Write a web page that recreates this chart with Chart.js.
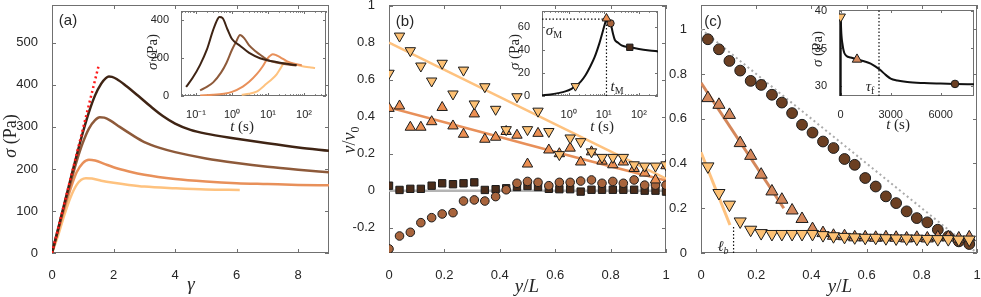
<!DOCTYPE html>
<html><head><meta charset="utf-8">
<script src="https://cdn.jsdelivr.net/npm/chart.js@4.4.0/dist/chart.umd.min.js"></script>
<style>
html,body{margin:0;padding:0;background:#fff;}
#wrap{position:relative;width:981px;height:297px;overflow:hidden;background:#fff;}
canvas{position:absolute;}
</style></head>
<body><div id="wrap"></div>
<script>
// ---------------- DATA ----------------
// Panel (a): stress vs strain
const aTicksX = [0,2,4,6,8], aTickLabelsX = ['0','2','4','6','8'];
const aTicksY = [0,100,200,300,400,500], aTickLabelsY = ['0','100','200','300','400','500'];
const aDarkG = [0,0.2,0.4,0.6,0.8,1.0,1.2,1.4,1.6,1.75,1.85,1.95,2.1,2.4,2.8,3.2,3.6,4.0,4.5,5,6,7,8,9];
const aDarkS = [0,58,117,175,232,286,335,375,403,416,420,419,414,398,374,349,326,308,293,284,272,261,251,243];
const aMedG = [0,0.2,0.4,0.6,0.8,1.0,1.2,1.4,1.55,1.7,1.9,2.2,2.6,3,3.5,4,5,6,7,8,9];
const aMedS = [0,56,112,166,218,262,296,316,323,322,315,300,281,264,250,240,225,214,205,198,192];
const aOrG = [0,0.2,0.4,0.6,0.8,1.0,1.2,1.4,1.7,2,2.5,3,4,5,6,7,8,9];
const aOrS = [0,52,104,152,192,214,222,220,212,204,194,186,176,170,166,164,162,161];
const aLtG = [0,0.2,0.4,0.6,0.8,0.95,1.1,1.3,1.6,2,2.5,3,4,5,6.1];
const aLtS = [0,42,90,132,162,174,178,177,172,167,162,158,154,151,150];
const aRefG = [0,1.53], aRefS = [0,450];
// Inset (a): stress vs time
const aiTicksX = [0.1,1,10,100], aiTickLabelsX = ['10⁻¹','10⁰','10¹','10²'];
const aiTicksY = [0,200,400], aiTickLabelsY = ['0','200','400'];
const aiDarkT = [0.053,0.08,0.13,0.2,0.3,0.4,0.45,0.55,0.75,1.0,1.7,3,6,10,17,30,63];
const aiDarkS = [48,95,165,245,350,408,418,412,352,302,265,228,200,188,180,172,163];
const aiMedT = [0.13,0.2,0.3,0.5,0.7,1.0,1.3,1.67,2.2,3,4.5,7,10,20,40,60];
const aiMedS = [30,48,72,125,175,245,287,323,305,268,237,210,190,175,165,162];
const aiOrT = [0.13,0.3,0.6,1,2,3,5,7,9.2,11,13.5,17,22,33,50,87];
const aiOrS = [3,6,12,22,50,75,118,155,192,210,221,216,205,185,172,163];
const aiLtT = [1.86,3,5,9.2,13,17.4,22,26.7,29,35,45,60,90,140,203];
const aiLtS = [7,12,25,66,90,115,145,171,178,177,172,166,158,152,148];

// Panel (b): velocity profiles
const bTicksX = [0,0.2,0.4,0.6,0.8,1], bTickLabelsX = ['0','0.2','0.4','0.6','0.8','1'];
const bTicksY = [-0.2,0,0.2,0.4,0.6,0.8,1], bTickLabelsY = ['-0.2','0','0.2','0.4','0.6','0.8','1'];
const bPos = [0,0.038,0.077,0.115,0.154,0.192,0.231,0.269,0.308,0.346,0.385,0.423,0.462,0.5,0.538,0.577,0.615,0.654,0.692,0.731,0.769,0.808,0.846,0.885,0.923,0.962,1.0];
const bDown = [0.635,0.836,0.757,0.674,0.593,0.689,0.523,0.652,0.469,0.562,0.44,0.33,0.508,0.33,0.43,0.32,0.195,0.285,0.265,0.21,0.18,0.18,0.18,0.14,0.133,0.133,0.14];
const bUp = [0.445,0.458,0.343,0.343,0.373,0.45,0.35,0.305,0.415,0.278,0.289,0.32,0.30,0.144,0.31,0.22,0.20,0.23,0.155,0.21,0.16,0.14,0.155,0.12,0.095,0.058,0.135];
const bCirc = [-0.315,-0.245,-0.225,-0.173,-0.146,-0.126,-0.119,-0.056,-0.05,-0.056,-0.032,0.005,0.04,0.05,0.045,0.027,0.045,0.045,0.052,0.058,0.04,0.05,0.04,0.058,0.03,0.03,0.03];
const bSq = [0.027,0.004,0.01,0.01,0.027,0.04,0.035,0.04,0.045,0.004,0.008,0.013,0.02,0.025,0.02,0.01,0.008,0.008,-0.005,0.005,0.005,0.005,0.005,0.005,0.0,0.0,-0.005];
const bLtLineX = [0,1], bLtLineV = [0.80,0.065];
const bOrLineX = [0,0.4,0.7,1], bOrLineV = [0.45,0.29,0.17,0.055];
const bZeroX = [0,1], bZeroV = [0,0];
// Inset (b)
const biTicksX = [1,10,100], biTickLabelsX = ['10⁰','10¹','10²'];
const biTicksY = [0,20,40,60], biTickLabelsY = ['0','20','40','60'];
const biT = [0.173,0.3,0.5,0.8,1.2,1.55,2.2,3,4,5.5,7.5,9.5,11,11.9,13,14,15.6,18,20.5,25,32,55,100,200,350];
const biS = [0.6,1.3,2.5,4,6.3,8.6,12.5,18,25,34,46,57,64,67.3,66,64.5,63.3,55,49,46.5,44,42.4,41,39.7,38.8];
const biDownT = [1.55], biDownS = [8.6];
const biUpT = [11.9], biUpS = [67.5];
const biCircT = [15.6], biCircS = [63.3];
const biSqT = [55], biSqS = [42.4];
const biHX = [0.173,11.9], biHS = [67,67];
const biVX = [11.9,11.9], biVS = [0,67];

// Panel (c)
const cTicksX = [0,0.2,0.4,0.6,0.8,1], cTickLabelsX = ['0','0.2','0.4','0.6','0.8','1'];
const cTicksY = [0,0.2,0.4,0.6,0.8,1], cTickLabelsY = ['0','0.2','0.4','0.6','0.8','1'];
const cPos = [0.025,0.065,0.103,0.142,0.18,0.218,0.257,0.293,0.33,0.366,0.404,0.442,0.48,0.52,0.557,0.595,0.633,0.67,0.707,0.745,0.782,0.82,0.858,0.896,0.934,0.972];
const cCirc = [0.955,0.91,0.858,0.815,0.769,0.751,0.707,0.672,0.625,0.573,0.538,0.498,0.469,0.42,0.394,0.335,0.297,0.253,0.223,0.186,0.156,0.137,0.104,0.074,0.052,0.04];
const cUp = [0.692,0.662,0.617,0.491,0.434,0.35,0.275,0.238,0.19,0.152,0.107,0.089,0.077,0.075,0.07,0.07,0.068,0.07,0.068,0.065,0.068,0.065,0.07,0.07,0.065,0.07];
const cDown = [0.387,0.268,0.216,0.141,0.104,0.089,0.085,0.085,0.085,0.085,0.085,0.08,0.075,0.072,0.07,0.068,0.068,0.066,0.065,0.065,0.064,0.063,0.062,0.062,0.06,0.06];
const cDiagX = [0,1], cDiagV = [1,0];
const cOrLineX = [0,0.3], cOrLineV = [0.76,0.2];
const cLtLineX = [0,0.105], cLtLineV = [0.45,0.125];
const cLbX = [0.118,0.118], cLbV = [0,0.12];
// Inset (c)
const ciTicksX = [0,3000,6000], ciTickLabelsX = ['0','3000','6000'];
const ciTicksY = [30,35,40], ciTickLabelsY = ['30','35','40'];
const ciT = [5,20,40,70,100,150,220,350,600,1000,1400,1800,2100,2400,2700,3000,3400,4000,5000,6000,6860,8000];
const ciS = [39.2,38.0,37.0,36.2,35.7,35.0,34.4,34.0,33.8,33.55,33.3,33.0,32.6,32.1,31.5,31.0,30.75,30.55,30.42,30.35,30.3,30.25];
const ciRiseT = [0,0,5], ciRiseS = [28.7,39.2,39.2];
const ciDownT = [0], ciDownS = [39.2];
const ciUpT = [980], ciUpS = [33.55];
const ciCircT = [6860], ciCircS = [30.3];
const ciTauX = [2300,2300], ciTauS = [28.7,40.1];

// ---------------- STYLE / HELPERS ----------------
const TXT = '#262626', FRAME = '#707070';
const SANS = "'Liberation Sans', Arial, sans-serif";
const SERIF = "'Liberation Serif', 'DejaVu Serif', serif";
const PAD = 20;
const P = (xs, ys) => xs.map((x, i) => ({x, y: ys[i]}));

function rich(ctx, x, y, parts, rot) {
  ctx.save();
  ctx.translate(x, y);
  if (rot) ctx.rotate(rot);
  ctx.textBaseline = 'alphabetic';
  ctx.textAlign = 'left';
  let w = 0;
  parts.forEach(p => { ctx.font = p.f; p.w = ctx.measureText(p.t).width; w += p.w; });
  let cx = -w / 2;
  parts.forEach(p => { ctx.font = p.f; ctx.fillStyle = TXT; ctx.fillText(p.t, cx, p.dy || 0); cx += p.w; });
  ctx.restore();
}

const decor = {
  id: 'decor',
  beforeDraw(chart) {
    const d = chart.canvas.$decor; if (!d || !d.bg) return;
    const a = chart.chartArea, ctx = chart.ctx;
    ctx.save(); ctx.fillStyle = '#fff'; ctx.fillRect(a.left, a.top, a.width, a.height); ctx.restore();
  },
  beforeDatasetsDraw(chart) {
    const d = chart.canvas.$decor; const a = chart.chartArea, ctx = chart.ctx;
    ctx.save();
    ctx.strokeStyle = FRAME; ctx.lineWidth = 1;
    ctx.strokeRect(a.left + 0.5, a.top + 0.5, a.width - 1, a.height - 1);
    const L = d.tick;
    const xs = chart.scales.x, ys = chart.scales.y;
    ctx.beginPath();
    xs.ticks.forEach(t => { const p = Math.round(xs.getPixelForValue(t.value)) + 0.5;
      ctx.moveTo(p, a.bottom); ctx.lineTo(p, a.bottom - L); ctx.moveTo(p, a.top); ctx.lineTo(p, a.top + L); });
    ys.ticks.forEach(t => { const p = Math.round(ys.getPixelForValue(t.value)) + 0.5;
      ctx.moveTo(a.left, p); ctx.lineTo(a.left + L, p); ctx.moveTo(a.right, p); ctx.lineTo(a.right - L, p); });
    if (d.minorX) {
      for (let e = Math.floor(Math.log10(xs.min)); e <= Math.ceil(Math.log10(xs.max)); e++) {
        for (let m = 2; m <= 9; m++) {
          const v = m * Math.pow(10, e); if (v < xs.min || v > xs.max) continue;
          const p = Math.round(xs.getPixelForValue(v)) + 0.5;
          ctx.moveTo(p, a.bottom); ctx.lineTo(p, a.bottom - L * 0.6); ctx.moveTo(p, a.top); ctx.lineTo(p, a.top + L * 0.6);
        }
      }
    }
    ctx.stroke();
    ctx.restore();
  },
  afterDraw(chart) {
    const d = chart.canvas.$decor; const ctx = chart.ctx;
    ctx.save();
    ctx.translate(-d.off.x, -d.off.y);
    (d.texts || []).forEach(t => rich(ctx, t.x, t.y, t.parts, t.rot));
    ctx.restore();
  }
};

function axis(type, min, max, ticks, labels, size, pad) {
  return {
    type, min, max,
    grid: {display: false}, border: {display: false},
    ticks: {autoSkip: false, maxRotation: 0, minRotation: 0, padding: pad, color: TXT,
      font: {family: SANS, size}, callback: (v, i) => labels[i]},
    afterBuildTicks: s => { s.ticks = ticks.map(v => ({value: v})); }
  };
}

function makeChart(rect, yW, xH, scales, datasets, decorOpts, z) {
  const W = PAD + yW + (rect.r - rect.l) + PAD;
  const H = PAD + (rect.b - rect.t) + xH + PAD;
  const c = document.createElement('canvas');
  c.width = W; c.height = H;
  const offX = rect.l - yW - PAD, offY = rect.t - PAD;
  c.style.left = offX + 'px'; c.style.top = offY + 'px';
  c.style.width = W + 'px'; c.style.height = H + 'px';
  c.style.zIndex = z;
  decorOpts.off = {x: offX, y: offY};
  c.$decor = decorOpts;
  document.getElementById('wrap').appendChild(c);
  scales.x.afterFit = s => { s.height = xH; };
  scales.y.afterFit = s => { s.width = yW; };
  datasets.forEach((ds, i) => { ds.order = datasets.length - i; });
  return new Chart(c, {
    type: 'scatter',
    data: {datasets},
    options: {
      responsive: false, devicePixelRatio: 1, animation: false,
      layout: {padding: PAD},
      events: [],
      plugins: {legend: {display: false}, tooltip: {enabled: false}},
      scales
    },
    plugins: [decor]
  });
}

const line = (data, color, w, extra) => Object.assign({data, showLine: true, borderColor: color, borderWidth: w,
  pointRadius: 0, pointHoverRadius: 0, fill: false}, extra || {});
const smooth = {cubicInterpolationMode: 'monotone'};
const mark = (data, style, r, fill, rot) => ({data, showLine: false, pointStyle: style, pointRadius: r,
  pointHoverRadius: r, pointRotation: rot || 0, pointBackgroundColor: fill, pointBorderColor: '#1c1c1c', pointBorderWidth: 1});

const C_DARK = '#3f2414', C_MED = '#8e5a3a', C_OR = '#e8905a', C_LT = '#fec27f';
const M_LT = '#fdc174', M_OR = '#ec8f52', M_ORC = '#d4875b', M_CIRC = '#a8643c', M_SQ = '#4a2c1a', M_CIRCC = '#6b3f22';

const it = (s) => 'italic ' + s + 'px ' + SERIF;
const rm = (s) => s + 'px ' + SERIF;
const sans = (s) => s + 'px ' + SANS;
const R90 = -Math.PI / 2;

// ---------------- PANEL (a) ----------------
makeChart({l: 52, r: 329, t: 5, b: 253}, 50, 44, {
  x: axis('linear', 0, 9, aTicksX, aTickLabelsX, 13, 7),
  y: axis('linear', 0, 590, aTicksY, aTickLabelsY, 13, 6)
}, [
  line(P(aLtG, aLtS), C_LT, 2.5, smooth),
  line(P(aOrG, aOrS), C_OR, 2.5, smooth),
  line(P(aMedG, aMedS), C_MED, 2.5, smooth),
  line(P(aDarkG, aDarkS), C_DARK, 2.5, smooth),
  line(P(aRefG, aRefS), '#ff1a1a', 2.5, {borderDash: [2, 3]})
], {tick: 4, texts: [
  {x: 68, y: 25, parts: [{t: '(a)', f: sans(15)}]},
  {x: 16, y: 136, rot: R90, parts: [{t: 'σ', f: it(18)}, {t: ' (Pa)', f: rm(18)}]},
  {x: 191, y: 290, parts: [{t: 'γ', f: it(19)}]}
]}, 1);

makeChart({l: 181, r: 326, t: 11, b: 96}, 36, 30, {
  x: axis('logarithmic', 0.0383, 409, aiTicksX, aiTickLabelsX, 11, 4),
  y: axis('linear', 0, 450, aiTicksY, aiTickLabelsY, 11, 4)
}, [
  line(P(aiLtT, aiLtS), C_LT, 2, smooth),
  line(P(aiOrT, aiOrS), C_OR, 2, smooth),
  line(P(aiMedT, aiMedS), C_MED, 2, smooth),
  line(P(aiDarkT, aiDarkS), C_DARK, 2, smooth)
], {tick: 3, bg: true, minorX: true, texts: [
  {x: 157, y: 52, rot: R90, parts: [{t: 'σ', f: it(15)}, {t: ' (Pa)', f: rm(15)}]},
  {x: 242, y: 131, parts: [{t: 't', f: it(15)}, {t: ' (s)', f: rm(15)}]}
]}, 5);

// ---------------- PANEL (b) ----------------
makeChart({l: 389, r: 666, t: 5, b: 253}, 50, 44, {
  x: axis('linear', 0, 1, bTicksX, bTickLabelsX, 13, 7),
  y: axis('linear', -0.337, 1.004, bTicksY, bTickLabelsY, 13, 6)
}, [
  line(P(bZeroX, bZeroV), '#b4b4b4', 2.5),
  line(P(bLtLineX, bLtLineV), C_LT, 2.5),
  line(P(bOrLineX, bOrLineV), C_OR, 2.5, smooth),
  mark(P(bPos, bSq), 'rect', 5.2, M_SQ),
  mark(P(bPos, bCirc), 'circle', 4.3, M_CIRC),
  mark(P(bPos, bUp), 'triangle', 6, M_OR),
  mark(P(bPos, bDown), 'triangle', 6, M_LT, 180)
], {tick: 4, texts: [
  {x: 405, y: 26, parts: [{t: '(b)', f: sans(15)}]},
  {x: 355, y: 140, rot: R90, parts: [{t: 'v', f: it(18)}, {t: '/', f: rm(18)}, {t: 'v', f: it(18)}, {t: '0', f: rm(12), dy: 4}]},
  {x: 527, y: 292, parts: [{t: 'y', f: it(19)}, {t: '/', f: rm(19)}, {t: 'L', f: it(19)}]}
]}, 2);

makeChart({l: 542, r: 658, t: 11, b: 96}, 30, 30, {
  x: axis('logarithmic', 0.173, 350, biTicksX, biTickLabelsX, 11, 4),
  y: axis('linear', 0, 74, biTicksY, biTickLabelsY, 11, 4)
}, [
  line(P(biHX, biHS), '#111', 1.2, {borderDash: [1.5, 2]}),
  line(P(biVX, biVS), '#111', 1.2, {borderDash: [1.5, 2]}),
  line(P(biT, biS), '#111', 2, smooth),
  mark(P(biSqT, biSqS), 'rect', 4.5, M_SQ),
  mark(P(biCircT, biCircS), 'circle', 3.6, M_CIRC),
  mark(P(biUpT, biUpS), 'triangle', 5, M_OR),
  mark(P(biDownT, biDownS), 'triangle', 5, M_LT, 180)
], {tick: 3, bg: true, minorX: true, texts: [
  {x: 519, y: 52, rot: R90, parts: [{t: 'σ', f: it(15)}, {t: ' (Pa)', f: rm(15)}]},
  {x: 602, y: 131, parts: [{t: 't', f: it(15)}, {t: ' (s)', f: rm(15)}]},
  {x: 554, y: 35, parts: [{t: 'σ', f: it(15)}, {t: 'M', f: rm(10), dy: 3}]},
  {x: 617, y: 91, parts: [{t: 't', f: it(15)}, {t: 'M', f: rm(10), dy: 3}]}
]}, 6);

// ---------------- PANEL (c) ----------------
makeChart({l: 701, r: 977, t: 5, b: 253}, 50, 44, {
  x: axis('linear', 0, 1, cTicksX, cTickLabelsX, 13, 7),
  y: axis('linear', 0, 1.108, cTicksY, cTickLabelsY, 13, 6)
}, [
  line(P(cDiagX, cDiagV), '#ababab', 2, {borderDash: [2, 3]}),
  line(P(cLbX, cLbV), '#111', 1.2, {borderDash: [1.5, 2]}),
  line(P(cOrLineX, cOrLineV), M_ORC, 3),
  line(P(cLtLineX, cLtLineV), C_LT, 3),
  mark(P(cPos, cCirc), 'circle', 5.4, M_CIRCC),
  mark(P(cPos, cUp), 'triangle', 7, M_ORC),
  mark(P(cPos, cDown), 'triangle', 7, M_LT, 180)
], {tick: 4, texts: [
  {x: 713, y: 26, parts: [{t: '(c)', f: sans(15)}]},
  {x: 840, y: 292, parts: [{t: 'y', f: it(19)}, {t: '/', f: rm(19)}, {t: 'L', f: it(19)}]},
  {x: 723, y: 251, parts: [{t: 'ℓ', f: it(15)}, {t: 'b', f: it(10), dy: 3}]}
]}, 3);

makeChart({l: 839, r: 974, t: 10, b: 96}, 30, 30, {
  x: axis('linear', -100, 8000, ciTicksX, ciTickLabelsX, 11, 4),
  y: axis('linear', 28.7, 40.1, ciTicksY, ciTickLabelsY, 11, 4)
}, [
  line(P(ciTauX, ciTauS), '#111', 1.2, {borderDash: [1.5, 2]}),
  line(P(ciRiseT, ciRiseS), '#111', 2),
  line(P(ciT, ciS), '#111', 2, smooth),
  mark(P(ciCircT, ciCircS), 'circle', 3.8, M_CIRCC),
  mark(P(ciUpT, ciUpS), 'triangle', 5.5, M_ORC),
  mark(P(ciDownT, ciDownS), 'triangle', 5.5, M_LT, 180)
], {tick: 3, bg: true, texts: [
  {x: 822, y: 49, rot: R90, parts: [{t: 'σ', f: it(15)}, {t: ' (Pa)', f: rm(15)}]},
  {x: 898, y: 129, parts: [{t: 't', f: it(15)}, {t: ' (s)', f: rm(15)}]},
  {x: 870, y: 91, parts: [{t: 'τ', f: it(15)}, {t: 'f', f: rm(10), dy: 3}]}
]}, 7);
</script></body></html>
